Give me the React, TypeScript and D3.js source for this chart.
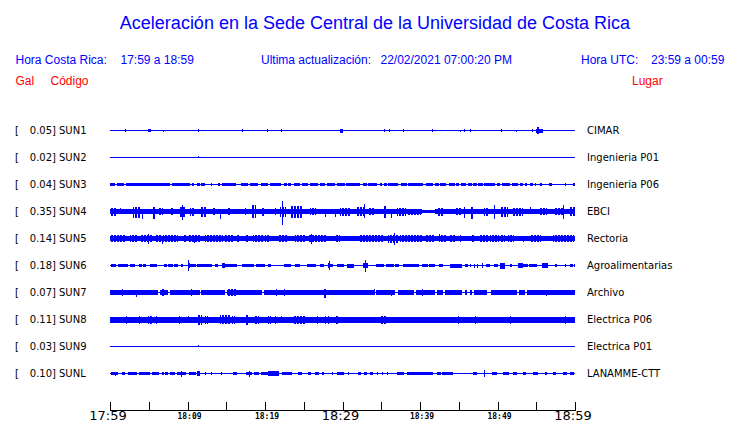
import React from "react";
import * as d3 from "d3";

// ---------- data ----------
const codes = ["SUN1", "SUN2", "SUN3", "SUN4", "SUN5", "SUN6", "SUN7", "SUN8", "SUN9", "SUNL"];
const peaks = [0.05, 0.02, 0.04, 0.35, 0.14, 0.18, 0.07, 0.11, 0.03, 0.1];
const places = ["CIMAR", "Ingenieria P01", "Ingenieria P06", "EBCI", "Rectoria", "Agroalimentarias", "Archivo", "Electrica P06", "Electrica P01", "LANAMME-CTT"];

// minutes after 17:59
const tickMinutes = [0, 5, 10, 15, 20, 25, 30, 35, 40, 45, 50, 55, 60];
const tickLabels = ["17:59", "", "18:09", "", "18:19", "", "18:29", "", "18:39", "", "18:49", "", "18:59"];
const majorTicks = ["17:59", "18:29", "18:59"];

// bands: [t0, t1, amplitude]   bursts: [t0, t1, up?, down?]  (relative amplitude)
type Seg = number[];

const sun1Bands: Seg[] = [];
const sun1Bursts: Seg[] = [
  [1.9, 1.9, 0.15], [4.9, 5.2, 0.15], [6.9, 6.9, 0.1], [11.3, 11.3, 0.15], [17.0, 17.0, 0.15],
  [20.3, 20.3, 0.15], [22.0, 22.0, 0.15], [29.7, 29.9, 0.2], [35.4, 35.4, 0.15], [36.0, 36.0, 0.15],
  [37.8, 37.8, 0.15], [41.5, 41.5, 0.15], [45.2, 45.2, 0.1], [45.7, 45.7, 0.15], [46.5, 46.5, 0.15],
  [50.4, 50.4, 0.15], [52.4, 52.4, 0.1], [54.5, 54.5, 0.15], [55.0, 55.7, 0.2], [55.1, 55.2, 0.35],
];

const sun2Bands: Seg[] = [];
const sun2Bursts: Seg[] = [[11.3, 11.3, 0.15, 0]];

const sun3Bands: Seg[] = [
  [0.0, 0.6], [0.9, 1.8], [2.1, 7.7], [8.0, 10.3], [10.6, 10.8], [11.2, 11.6], [11.8, 12.3], [13.0, 13.2],
  [13.9, 14.2], [14.4, 16.3], [16.9, 17.8], [18.1, 19.1], [19.5, 20.4], [20.6, 22.1], [22.4, 22.8], [23.0, 23.4],
  [23.7, 24.5], [24.8, 25.6], [25.8, 26.9], [27.1, 27.7], [28.0, 29.0], [29.3, 30.3], [30.5, 32.3], [32.6, 33.1],
  [33.3, 34.4], [34.8, 35.1], [35.3, 35.7], [35.9, 37.2], [37.5, 38.3], [38.5, 40.4], [40.8, 41.7], [41.9, 42.4],
  [42.6, 43.4], [43.7, 44.5], [44.7, 45.0], [45.3, 45.9], [46.2, 46.7], [46.9, 47.3], [47.5, 48.1], [48.3, 49.7],
  [49.9, 50.3], [50.6, 51.6], [51.9, 52.7], [52.9, 53.3], [53.5, 53.8], [54.2, 54.6], [54.8, 55.0], [55.5, 55.8],
  [56.6, 57.0], [58.7, 58.8], [59.8, 60.0],
].map((d) => [d[0], d[1], 0.15]);
const sun3Bursts: Seg[] = [];

const sun4Bands: Seg[] = [[0, 40.2, 0.25], [40.2, 41.9, 0.12], [41.9, 60, 0.25]];
const sun4Bursts: Seg[] = [
  [0.0, 0.6, 0.35, 0.4], [1.3, 1.3, 0.35, 0.25], [3.0, 3.7, 0.47, 0.6], [4.1, 4.1, 0.3, 0.77], [5.4, 5.7, 0.47, 0.7],
  [6.2, 6.7, 0.35], [7.7, 8.0, 0.35], [9.0, 9.7, 0.5], [9.3, 9.3, 0.67, 0.87], [10.3, 10.7, 0.35, 0.4],
  [11.8, 12.3, 0.45, 0.5], [13.1, 13.5, 0.35], [14.2, 14.2, 0.25, 0.7], [15.1, 15.5, 0.35], [17.4, 17.4, 0.35],
  [18.2, 18.7, 0.67, 0.6], [19.6, 19.8, 0.35, 0.45], [21.3, 21.3, 0.4, 0.3], [21.9, 22.6, 0.5], [22.2, 22.2, 1.07, 1.3],
  [23.4, 24.7, 0.57, 0.6], [25.8, 26.5, 0.35], [27.7, 27.7, 0.3, 0.5], [29.0, 29.0, 0.3, 0.5], [29.7, 31.0, 0.4, 0.45],
  [31.8, 32.9, 0.45], [32.8, 32.8, 0.8, 0.67], [33.3, 34.0, 0.35], [35.3, 35.5, 0.57, 0.6], [36.3, 36.3, 0.25, 0.6],
  [37.0, 38.1, 0.4], [38.5, 40.0, 0.3], [42.2, 43.0, 0.4, 0.45], [44.5, 45.2, 0.35], [45.7, 45.7, 0.5, 0.67],
  [46.5, 46.9, 0.5, 0.7], [48.2, 48.8, 0.4], [49.6, 49.6, 0.67, 0.7], [50.3, 51.2, 0.45, 0.5], [52.0, 53.1, 0.4],
  [54.2, 54.2, 0.47, 0.25], [55.5, 56.3, 0.35], [57.4, 58.5, 0.35], [58.5, 58.5, 0.67, 0.77], [59.4, 60.0, 0.45],
];

const sun5Bands: Seg[] = [[0, 60, 0.22]];
const sun5Bursts: Seg[] = [
  [0.0, 1.9, 0.32], [2.6, 3.4, 0.32], [3.9, 5.4, 0.35], [4.9, 4.9, 0.5], [5.8, 6.5, 0.32], [6.7, 6.7, 0.25, 0.5],
  [6.9, 8.6, 0.35], [9.5, 9.7, 0.32], [10.1, 11.6, 0.35], [10.9, 10.9, 0.3, 0.45], [12.3, 14.4, 0.32], [14.8, 15.7, 0.32],
  [16.3, 16.6, 0.32], [17.4, 17.8, 0.32], [18.5, 19.6, 0.35], [20.0, 20.4, 0.32], [21.7, 22.8, 0.32], [23.9, 25.2, 0.32],
  [25.6, 26.5, 0.35], [25.9, 25.9, 0.5], [26.5, 27.7, 0.32], [29.0, 29.5, 0.32], [32.3, 35.1, 0.32], [35.9, 37.2, 0.4],
  [36.6, 36.6, 0.53, 0.6], [37.4, 40.2, 0.32], [40.6, 41.7, 0.32], [42.4, 43.4, 0.35], [42.5, 42.5, 0.5, 0.35],
  [43.9, 44.5, 0.32], [45.2, 45.2, 0.32], [46.7, 46.9, 0.32], [47.7, 48.6, 0.32], [49.0, 50.1, 0.32], [50.5, 50.8, 0.32],
  [51.4, 52.0, 0.32], [53.3, 53.3, 0.2, 0.35], [54.2, 55.5, 0.35], [57.2, 59.8, 0.32],
];

const sun6Bands: Seg[] = [];
const sun6Bursts: Seg[] = [
  [0.1, 0.7], [1.0, 1.5], [1.7, 2.2], [2.6, 3.1], [3.7, 4.0], [4.2, 4.5], [5.2, 5.9], [7.0, 7.2], [7.5, 8.0],
  [8.2, 8.6], [9.2, 9.3], [10.0, 10.2, 0.27], [10.1, 10.1, 0.53, 0.57], [10.3, 11.0], [11.2, 11.6], [11.8, 12.7],
  [12.8, 13.0], [13.5, 13.8], [14.5, 14.7, 0.27], [14.8, 15.3], [15.5, 15.7], [15.9, 16.3], [17.0, 17.4], [17.6, 18.4],
  [18.9, 19.9], [20.4, 20.6, 0.15], [22.5, 22.8], [23.0, 23.2], [23.9, 24.4], [25.4, 25.9], [26.1, 26.4], [27.1, 27.5],
  [28.1, 28.3, 0.27], [28.2, 28.2, 0.43, 0.47], [28.4, 28.6], [29.3, 30.1], [30.6, 31.3, 0.2], [32.7, 33.2, 0.27],
  [32.9, 32.9, 0.57, 0.63], [34.3, 35.2], [35.6, 36.1], [36.2, 36.5], [36.8, 37.1], [37.8, 38.3], [38.5, 39.8],
  [40.3, 40.9], [41.1, 41.8], [42.4, 42.8], [43.9, 45.3, 0.2], [45.8, 46.0], [46.4, 46.5], [47.0, 47.0, 0.2],
  [47.4, 47.4, 0.2], [48.0, 48.0, 0.23], [48.5, 48.9], [49.5, 49.9], [50.3, 50.8, 0.3], [51.6, 51.8],
  [52.7, 53.1, 0.3, 0.27], [53.3, 53.8], [54.1, 54.4], [54.6, 55.0], [55.7, 56.4, 0.23], [57.4, 57.6],
  [58.7, 58.7, 0.15], [59.4, 59.6], [59.9, 59.9, 0.15],
];

const sun7Bands: Seg[] = [
  [0, 6.2], [6.5, 7.5], [7.7, 11.6], [11.8, 14.8], [15.1, 19.6], [19.9, 34.0], [34.3, 36.8], [37.1, 39.2],
  [39.5, 41.9], [42.2, 43.0], [43.2, 45.4], [45.8, 46.0], [46.4, 46.7], [47.0, 48.6], [49.1, 52.5], [52.8, 53.5],
  [53.8, 60],
].map((d) => [d[0], d[1], 0.25]);
const sun7Bursts: Seg[] = [
  [1.6, 1.6, 0.35], [3.3, 3.3, 0.25, 0.4], [6.7, 6.9, 0.35], [10.5, 10.5, 0.35], [15.2, 16.1, 0.35],
  [21.4, 21.4, 0.35], [22.5, 22.5, 0.35], [27.5, 27.7, 0.35, 0.53], [34.0, 34.0, 0.4, 0.25], [36.3, 36.3, 0.3],
  [40.2, 40.2, 0.4, 0.35], [56.3, 56.3, 0.25, 0.35],
];

const sun8Bands: Seg[] = [[0, 60, 0.3]];
const sun8Bursts: Seg[] = [
  [2.0, 2.0, 0.4], [3.8, 3.8, 0.4], [4.9, 5.3, 0.4], [5.9, 5.9, 0.4], [8.9, 8.9, 0.4], [10.1, 10.1, 0.35],
  [11.2, 11.7, 0.43, 0.5], [12.2, 12.5, 0.4], [14.2, 15.4, 0.43], [15.7, 16.0, 0.4], [17.6, 17.8, 0.47, 0.53],
  [18.6, 19.1, 0.4], [20.4, 20.6, 0.4], [21.3, 21.3, 0.4], [22.1, 22.1, 0.35], [23.7, 25.2, 0.4], [25.0, 25.0, 0.4, 0.45],
  [26.7, 26.7, 0.4], [27.7, 27.7, 0.4], [28.1, 28.1, 0.4], [29.0, 29.4, 0.4], [34.9, 35.5, 0.4, 0.45],
  [37.4, 37.4, 0.3, 0.35], [44.9, 44.9, 0.4], [47.1, 47.1, 0.4], [51.6, 51.6, 0.4], [58.7, 58.7, 0.4],
];

const sun9Bands: Seg[] = [];
const sun9Bursts: Seg[] = [[11.3, 11.3, 0.15, 0]];

const sunLBands: Seg[] = [];
const sunLBursts: Seg[] = [
  [0.1, 0.9], [0.6, 0.6, 0.2], [1.6, 1.8], [2.3, 3.3], [3.7, 4.1], [4.3, 5.0], [5.4, 6.2], [6.7, 6.9], [7.1, 7.3],
  [7.7, 8.2], [8.6, 9.7], [9.1, 9.1, 0.3, 0.37], [10.2, 11.0], [11.2, 11.5, 0.27], [12.3, 12.3, 0.15], [13.0, 13.0, 0.15],
  [14.3, 14.3, 0.15], [15.9, 16.3], [17.6, 18.2], [17.9, 17.9, 0.3], [18.6, 19.1], [19.5, 20.2], [20.4, 21.7, 0.23],
  [22.2, 23.4], [24.3, 24.7], [25.5, 25.8], [26.4, 26.9], [27.3, 27.5], [28.6, 28.6, 0.15], [29.3, 30.0],
  [30.7, 30.7, 0.15], [32.0, 32.3], [32.8, 33.0], [33.5, 33.8], [34.4, 34.4, 0.15], [35.1, 35.1, 0.15],
  [35.8, 35.8, 0.15], [37.0, 37.8], [38.3, 38.8], [38.9, 41.6], [42.2, 42.6], [42.8, 44.1], [46.8, 47.2],
  [48.2, 48.2, 0.37], [49.3, 49.8], [50.7, 51.4], [52.0, 52.4], [53.3, 53.5], [54.6, 55.1], [56.1, 56.3],
  [57.2, 57.4], [58.4, 58.9], [59.4, 59.8],
];

const stationBands = [sun1Bands, sun2Bands, sun3Bands, sun4Bands, sun5Bands, sun6Bands, sun7Bands, sun8Bands, sun9Bands, sunLBands];
const stationBursts = [sun1Bursts, sun2Bursts, sun3Bursts, sun4Bursts, sun5Bursts, sun6Bursts, sun7Bursts, sun8Bursts, sun9Bursts, sunLBursts];

// ---------- layout ----------
const W = 740;
const H = 423;
const BLUE = "#0000ff";
const RED = "#ff0000";
const SANS = "'Liberation Sans', Arial, Helvetica, sans-serif";
const DEJA = "'DejaVu Sans', sans-serif";
const MONO = "'DejaVu Sans Mono', monospace";

export default function App() {
  const x = d3.scaleLinear().domain([0, 60]).range([110, 575]);
  const row = d3.scalePoint<string>().domain(codes).range([130.5, 373.5]);
  const amp = d3.scaleLinear().domain([0, 1]).range([0, 10]);
  const DEFAULT_AMP = 0.17;

  const rects: React.ReactNode[] = [];
  codes.forEach((code, i) => {
    const cy = row(code) as number;
    rects.push(
      <rect key={`b-${code}`} x={x(0)} y={cy - 0.5} width={x(60) - x(0)} height={1} fill={BLUE} />
    );
    const hasBand = stationBands[i].length > 0;
    const drawSeg = (d: Seg, key: string, isBand: boolean) => {
      const up = d.length > 2 ? d[2] : DEFAULT_AMP;
      const down = d.length > 3 ? d[3] : up;
      const xa = Math.round(x(d[0]));
      const xb = Math.min(575, Math.max(xa + 1, Math.round(x(d[1])) + (isBand ? 0 : 1)));
      const ya = Math.round(cy - Math.max(0.5, amp(up)));
      const yb = Math.round(cy + Math.max(0.5, amp(down)));
      const w = xb - xa;
      // wide bursts on top of a continuous band are drawn as dense vertical strokes
      const fill = !isBand && hasBand && w >= 3 ? "url(#hatch)" : BLUE;
      rects.push(<rect key={key} x={xa} y={ya} width={w} height={yb - ya} fill={fill} />);
    };
    stationBands[i].forEach((d, j) => drawSeg(d, `band-${code}-${j}`, true));
    stationBursts[i].forEach((d, j) => drawSeg(d, `burst-${code}-${j}`, false));
  });

  return (
    <svg
      width={W}
      height={H}
      viewBox={`0 0 ${W} ${H}`}
      style={{ position: "absolute", left: 0, top: 0, background: "#fff" }}
    >
      <defs>
        <pattern id="hatch" patternUnits="userSpaceOnUse" x={0} y={0} width={3} height={4}>
          <rect x={0} y={0} width={2} height={4} fill={BLUE} />
        </pattern>
      </defs>
      <rect x={0} y={0} width={W} height={H} fill="#fff" />
      <text x={375} y={28.5} textAnchor="middle" fontFamily={SANS} fontSize={18} fill={BLUE}>
        Aceleración en la Sede Central de la Universidad de Costa Rica
      </text>

      <g fontFamily={SANS} fontSize={12} fill={BLUE}>
        <text x={15.5} y={64}>Hora Costa Rica:</text>
        <text x={120.5} y={64}>17:59 a 18:59</text>
        <text x={261} y={64}>Ultima actualización:</text>
        <text x={380.5} y={64}>22/02/2021 07:00:20 PM</text>
        <text x={581} y={64}>Hora UTC:</text>
        <text x={651} y={64}>23:59 a 00:59</text>
      </g>
      <g fontFamily={SANS} fontSize={12} fill={RED}>
        <text x={15.5} y={85}>Gal</text>
        <text x={50.5} y={85}>Código</text>
        <text x={632} y={85}>Lugar</text>
      </g>

      <g shapeRendering="crispEdges">{rects}</g>

      <g fontFamily={DEJA} fontSize={10} fill="#000">
        {codes.map((code, i) => {
          const cy = row(code) as number;
          return (
            <g key={`lbl-${code}`}>
              <text x={15} y={cy + 3.5}>[</text>
              <text x={56} y={cy + 3.5} textAnchor="end">{peaks[i].toFixed(2)}]</text>
              <text x={59} y={cy + 3.5}>{code}</text>
              <text x={587} y={cy + 3.5}>{places[i]}</text>
            </g>
          );
        })}
      </g>

      <g shapeRendering="crispEdges">
        <rect x={x(0)} y={410} width={x(60) - x(0) + 1} height={1} fill="#000" />
        {tickMinutes.map((m) => (
          <rect key={`t-${m}`} x={Math.round(x(m))} y={402} width={1} height={8} fill="#000" />
        ))}
      </g>
      {tickMinutes.map((m, i) =>
        tickLabels[i] === "" ? null : majorTicks.includes(tickLabels[i]) ? (
          <text key={`tl-${m}`} x={x(m) - 2} y={420} textAnchor="middle" fontFamily={DEJA} fontSize={13} fill="#000">
            {tickLabels[i]}
          </text>
        ) : (
          <text key={`tl-${m}`} x={x(m) + 2} y={419} textAnchor="middle" fontFamily={MONO} fontSize={8} fontWeight="bold" fill="#000">
            {tickLabels[i]}
          </text>
        )
      )}
    </svg>
  );
}
